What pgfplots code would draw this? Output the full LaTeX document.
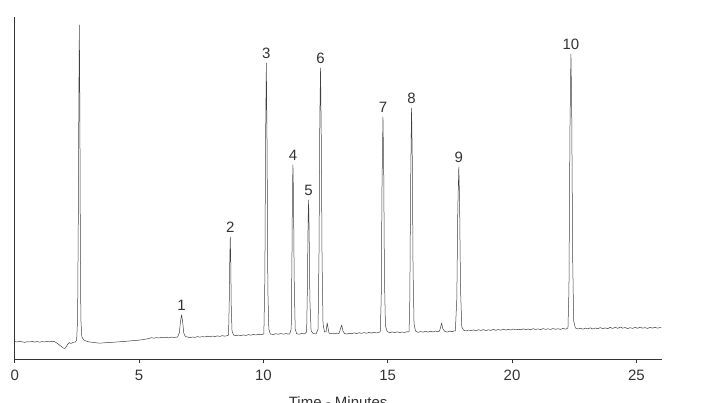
\documentclass[border=0pt]{standalone}
\usepackage{fontspec}
\setmainfont{Liberation Sans}
\usepackage{pgfplots}
\pgfplotsset{compat=1.18}
\definecolor{txt}{HTML}{333333}
\definecolor{trace}{HTML}{404040}
\begin{document}
\begin{tikzpicture}
\begin{axis}[
  scale only axis, width=647pt, height=342pt,
  xmin=0, xmax=26.02, ymin=0, ymax=342,
  axis x line=bottom, axis y line=left,
  axis line style={-, line width=0.9pt, color=black!80},
  ytick=\empty,
  xtick={0,5,10,15,20,25},
  tick align=outside, major tick length=4pt,
  tick style={line width=0.8pt, color=black!80},
  /pgf/number format/assume math mode=true,
  xticklabel style={font=\fontsize{15}{15}\selectfont, text=txt, inner sep=0pt, yshift=-6.5pt},
  xlabel={Time - Minutes},
  xlabel style={font=\fontsize{15}{15}\selectfont, text=txt, anchor=north, inner sep=0pt, at={(axis description cs:0.5,0)}, yshift=-37pt},
  clip=false,
]
\addplot[color=trace, line width=0.5pt, line join=round] coordinates {
(0.00,17.5) (0.10,17.0) (0.20,17.8) (0.30,17.2) (0.40,16.6) (0.50,17.3) (0.60,17.0) (0.70,17.6) (0.80,16.9) (0.90,17.5) (1.00,16.8) (1.10,17.4) (1.20,17.0) (1.30,17.7) (1.40,17.1) (1.50,17.8) (1.62,17.2)
(1.72,15.5) (1.80,14.0) (1.88,12.5) (1.95,11.0) (2.02,10.5) (2.08,12.5) (2.14,15.0) (2.20,16.5) (2.26,15.5) (2.32,16.2) (2.38,17.0) (2.44,16.8)
(2.49,19) (2.53,40) (2.56,150) (2.58,260) (2.60,334) (2.62,250) (2.64,120) (2.66,40) (2.70,22) (2.75,20) (2.80,18.5) (2.90,17.8)
(3.00,17.0) (3.20,16.5) (3.40,15.8) (3.60,16.2) (3.80,16.5) (4.00,16.8) (4.20,17.2) (4.40,17.5) (4.60,18.0) (4.80,18.5) (5.00,18.8) (5.20,19.5)
(5.40,20.5) (5.50,21.3) (5.60,20.8) (5.70,21.4) (5.80,21.0) (5.90,21.7) (6.00,21.2) (6.10,21.8) (6.20,21.1) (6.30,21.9) (6.40,21.5) (6.55,22.0)
(6.62,26) (6.67,38) (6.71,44) (6.75,38) (6.80,26) (6.86,22.5)
(6.95,22.0) (7.05,21.3) (7.15,22.0) (7.25,21.6) (7.35,22.4) (7.45,21.8) (7.55,22.5) (7.65,22.0) (7.75,22.8) (7.85,22.2) (7.95,23.0) (8.05,22.4) (8.15,23.1) (8.25,22.6) (8.35,23.4) (8.45,22.8) (8.52,23.2)
(8.60,24) (8.63,60) (8.65,100) (8.67,122) (8.69,95) (8.71,50) (8.74,28) (8.80,24)
(8.90,23.2) (9.00,23.9) (9.10,23.3) (9.20,24.1) (9.30,23.5) (9.40,24.4) (9.50,23.8) (9.60,24.6) (9.70,24.0) (9.80,24.8) (9.90,24.3)
(10.02,25) (10.06,80) (10.09,220) (10.12,296) (10.15,210) (10.18,70) (10.22,30) (10.28,25)
(10.40,24.4) (10.50,25.3) (10.60,24.7) (10.70,25.5) (10.80,24.8) (10.90,25.4) (11.00,24.9) (11.06,25.2)
(11.12,30) (11.15,100) (11.17,170) (11.19,194) (11.21,165) (11.24,80) (11.28,30) (11.34,25.2)
(11.45,24.8) (11.55,25.6) (11.65,25.0)
(11.74,27) (11.77,70) (11.80,140) (11.82,159) (11.84,130) (11.87,60) (11.92,28) (12.00,25.5) (12.12,25)
(12.20,30) (12.24,110) (12.27,240) (12.30,291) (12.33,220) (12.36,100) (12.40,35) (12.46,27)
(12.52,27) (12.55,33) (12.57,36) (12.60,31) (12.64,26)
(12.72,25.3) (12.80,26.0) (12.88,25.1) (12.96,25.9) (13.04,25.4) (13.10,30) (13.15,34) (13.20,28) (13.26,25.6)
(13.35,24.9) (13.45,25.8) (13.55,25.2) (13.65,26.2) (13.75,25.4) (13.85,26.3) (13.95,25.6) (14.05,26.5) (14.15,25.7) (14.25,26.6) (14.35,25.9) (14.45,26.8) (14.55,26.0) (14.63,26.6)
(14.70,27) (14.74,60) (14.77,170) (14.81,242) (14.84,190) (14.87,80) (14.91,33) (14.98,27.5)
(15.08,26.2) (15.18,27.1) (15.28,26.4) (15.38,27.2) (15.48,26.3) (15.58,27.0) (15.68,26.5) (15.78,27.3)
(15.86,27) (15.89,60) (15.92,170) (15.96,251) (15.99,200) (16.02,90) (16.06,35) (16.12,28)
(16.22,26.6) (16.32,27.5) (16.42,26.8) (16.52,27.7) (16.62,26.9) (16.72,27.8) (16.82,27.1) (16.92,27.9) (17.02,27.2) (17.08,27.8)
(17.12,31) (17.17,36) (17.22,30) (17.30,27.5) (17.40,26.9) (17.50,27.9) (17.60,27.3) (17.68,28.2)
(17.72,28) (17.78,60) (17.82,150) (17.86,192) (17.89,160) (17.93,70) (17.98,32) (18.05,29)
(18.15,28.0) (18.25,29.0) (18.35,28.3) (18.45,29.1) (18.55,28.2) (18.65,29.3) (18.75,28.5) (18.85,29.4) (18.95,28.4) (19.05,29.2) (19.15,28.6) (19.25,29.6)
(19.35,28.7) (19.45,29.5) (19.55,28.8) (19.65,29.8) (19.75,28.9) (19.85,29.6) (19.95,29.0) (20.05,30.0) (20.15,29.1) (20.25,29.8) (20.35,29.2) (20.45,30.1)
(20.55,29.3) (20.65,30.0) (20.75,29.2) (20.85,30.3) (20.95,29.5) (21.05,30.1) (21.15,29.4) (21.25,30.4) (21.35,29.6) (21.45,30.2) (21.55,29.5) (21.65,30.5)
(21.75,29.7) (21.85,30.3) (21.95,29.6) (22.05,30.6) (22.15,29.8)
(22.25,31) (22.29,70) (22.33,230) (22.37,305) (22.40,250) (22.44,100) (22.48,38) (22.55,31)
(22.65,30.0) (22.75,30.8) (22.85,29.8) (22.95,30.9) (23.05,30.1) (23.15,31.2) (23.25,30.0) (23.35,31.0) (23.45,30.3) (23.55,31.4) (23.65,30.2) (23.75,31.1)
(23.85,30.4) (23.95,31.6) (24.05,30.5) (24.15,31.8) (24.25,30.6) (24.35,32.0) (24.45,30.8) (24.55,31.5) (24.65,30.4) (24.75,31.3) (24.85,30.6) (24.95,31.7)
(25.05,30.7) (25.15,31.9) (25.25,30.8) (25.35,31.4) (25.45,30.5) (25.55,31.6) (25.65,30.9) (25.75,31.8) (25.85,30.8) (25.95,31.5) (26.00,31.2)
};
\begin{scope}[every node/.style={anchor=south, inner sep=0pt, yshift=4pt, text=txt, font=\fontsize{15}{15}\selectfont}]
\node at (axis cs:6.71,44) {1};
\node at (axis cs:8.67,122) {2};
\node at (axis cs:10.12,296) {3};
\node at (axis cs:11.19,194) {4};
\node at (axis cs:11.82,159) {5};
\node at (axis cs:12.30,291) {6};
\node at (axis cs:14.81,242) {7};
\node at (axis cs:15.96,251) {8};
\node at (axis cs:17.86,192) {9};
\node at (axis cs:22.37,305) {10};
\end{scope}
\coordinate (bl) at (rel axis cs:0,0);
\coordinate (tr) at (rel axis cs:1,1);
\end{axis}
\pgfresetboundingbox
\path[use as bounding box] ([shift={(-14.7pt,-44pt)}]bl) rectangle ([shift={(39.3pt,17pt)}]tr);
\end{tikzpicture}
\end{document}
